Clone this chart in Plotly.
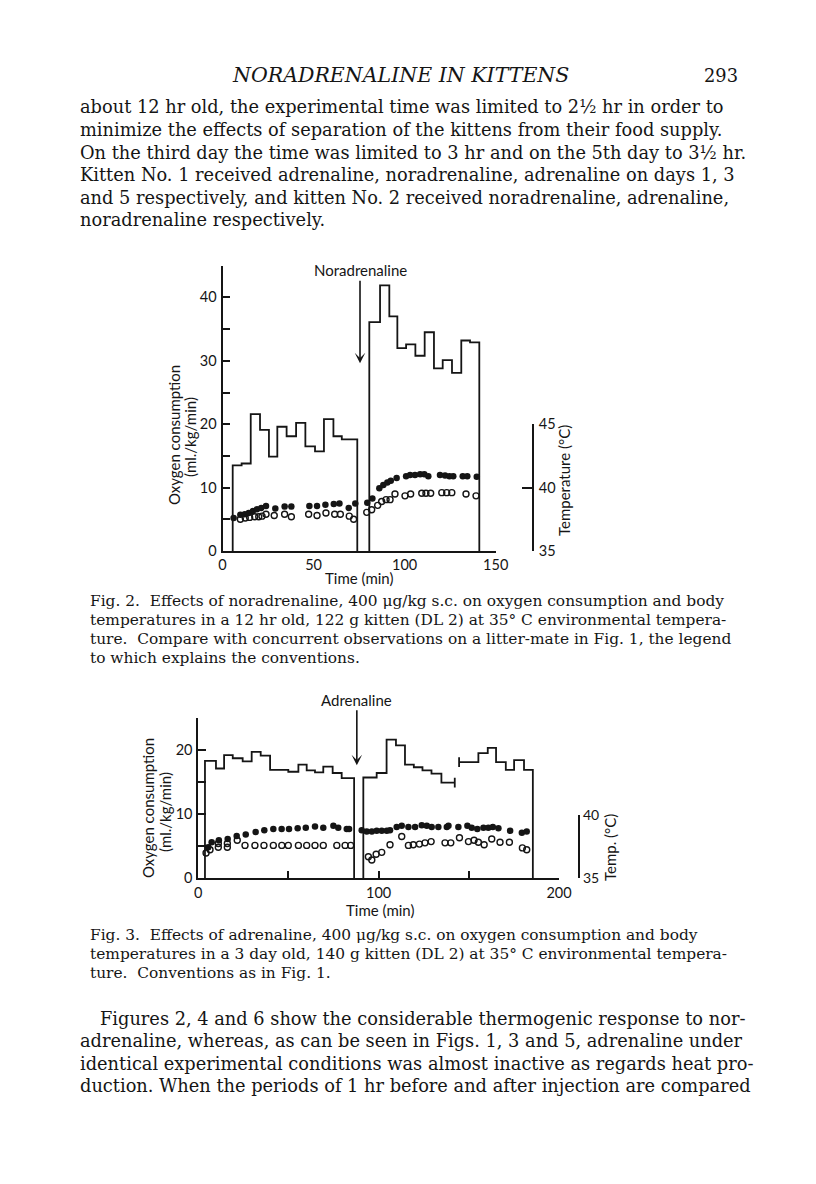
import plotly.graph_objects as go

W, H = 816, 1184
SERIF = "DejaVu Serif"
SANS = "Lato"
INK = "#151515"

# ---- page text -------------------------------------------------------------
header_title = "NORADRENALINE IN KITTENS"
header_page = "293"
para_top = [
    "about 12 hr old, the experimental time was limited to 2½ hr in order to",
    "minimize the effects of separation of the kittens from their food supply.",
    "On the third day the time was limited to 3 hr and on the 5th day to 3½ hr.",
    "Kitten No. 1 received adrenaline, noradrenaline, adrenaline on days 1, 3",
    "and 5 respectively, and kitten No. 2 received noradrenaline, adrenaline,",
    "noradrenaline respectively.",
]
cap_fig2 = [
    "Fig. 2.  Effects of noradrenaline, 400 μg/kg s.c. on oxygen consumption and body",
    "temperatures in a 12 hr old, 122 g kitten (DL 2) at 35° C environmental tempera-",
    "ture.  Compare with concurrent observations on a litter-mate in Fig. 1, the legend",
    "to which explains the conventions.",
]
cap_fig3 = [
    "Fig. 3.  Effects of adrenaline, 400 μg/kg s.c. on oxygen consumption and body",
    "temperatures in a 3 day old, 140 g kitten (DL 2) at 35° C environmental tempera-",
    "ture.  Conventions as in Fig. 1.",
]
para_bottom = [
    "Figures 2, 4 and 6 show the considerable thermogenic response to nor-",
    "adrenaline, whereas, as can be seen in Figs. 1, 3 and 5, adrenaline under",
    "identical experimental conditions was almost inactive as regards heat pro-",
    "duction. When the periods of 1 hr before and after injection are compared",
]

# ---- Fig. 2: noradrenaline, 12 hr old kitten --------------------------------
# oxygen consumption (ml./kg/min), step blocks between the given times (min)
f2_o2_pre_edges = [5.6, 10.5, 15.5, 20.6, 25.5, 30.1, 35.2, 40.4, 45.5, 50.8, 55.7, 60.9, 65.5, 74.0]
f2_o2_pre = [13.5, 13.8, 21.6, 19.1, 14.9, 19.6, 18.1, 20.2, 16.5, 15.7, 20.8, 18.1, 17.6]
f2_o2_post_edges = [80.6, 86.5, 91.6, 96.0, 100.8, 105.9, 111.0, 116.1, 120.9, 126.0, 131.1, 135.9, 141.0]
f2_o2_post = [36.1, 41.9, 37.0, 32.0, 32.6, 30.8, 34.5, 28.8, 30.1, 28.1, 33.2, 32.9]
# temperatures (deg C)
f2_filled_time = [6.1, 9.8, 12.2, 14.4, 16.7, 18.9, 21.3, 23.9, 29.0, 34.1, 37.8, 47.7, 51.9, 56.5,
                  61.1, 64.2, 69.3, 72.9,
                  79.5, 82.3, 86.1, 88.3, 90.5, 92.4, 95.6, 100.8, 103.0, 105.7, 108.5, 110.8,
                  113.0, 119.4, 122.2, 124.6, 126.7, 131.9, 134.4, 139.6]
f2_filled_temp = [37.6, 37.85, 37.9, 38.0, 38.15, 38.3, 38.4, 38.55, 38.35, 38.5, 38.5, 38.55, 38.55, 38.65,
                  38.7, 38.75, 38.4, 38.75,
                  38.8, 39.15, 39.95, 40.2, 40.4, 40.55, 40.75, 40.9, 41.0, 41.0, 41.05, 41.05,
                  40.9, 41.0, 40.95, 40.9, 40.9, 40.9, 40.9, 40.85]
f2_open_time = [9.8, 12.5, 14.9, 17.7, 19.9, 21.7, 23.9, 28.4, 34.1, 37.8, 47.3, 51.9, 56.8, 61.6,
                64.7, 69.6, 72.0,
                79.2, 81.9, 85.2, 87.4, 89.8, 92.0, 94.7, 100.2, 103.3, 109.4, 111.7, 114.3,
                120.4, 123.1, 125.9, 133.7, 139.2]
f2_open_temp = [37.5, 37.6, 37.65, 37.7, 37.7, 37.75, 37.9, 37.8, 37.9, 37.7, 37.9, 37.8, 38.0, 37.9,
                37.9, 37.75, 37.5,
                38.05, 38.25, 38.6, 38.9, 39.05, 39.05, 39.5, 39.35, 39.5, 39.55, 39.55, 39.55,
                39.6, 39.6, 39.6, 39.5, 39.35]
f2_inject = {"label": "Noradrenaline", "time": 75.5, "tip": 29.6, "text_at": 44.3}

# ---- Fig. 3: adrenaline, 3 day old kitten -----------------------------------
f3_o2_pre_edges = [3.7, 9.8, 14.3, 19.1, 24.6, 29.6, 34.6, 39.8, 49.9, 55.5, 60.1, 64.7, 69.3, 74.5, 79.5, 86.4]
f3_o2_pre = [18.3, 17.1, 19.2, 18.7, 18.2, 19.7, 19.1, 16.9, 16.6, 17.7, 16.8, 16.5, 17.4, 16.4, 15.6]
f3_o2_post_edges = [91.5, 98.9, 104.4, 109.6, 114.6, 119.5, 124.3, 129.3, 134.8, 142.2]
f3_o2_post = [15.7, 16.4, 21.6, 20.7, 17.7, 17.3, 16.8, 16.3, 14.9]
f3_o2_late_edges = [144.6, 155.3, 160.5, 165.1, 170.5, 175.1, 180.6, 185.5]
f3_o2_late = [18.1, 19.5, 20.3, 18.1, 16.9, 18.4, 16.9]
f3_filled_time = [5.5, 7.4, 11.4, 16.3, 21.3, 26.3, 31.8, 36.6, 41.6, 46.2, 50.3, 55.1, 59.6, 64.7,
                  69.3, 74.9, 77.6, 82.3, 83.6,
                  90.6, 93.4, 96.2, 98.9, 101.7, 104.5, 106.3, 110.0, 112.8, 116.5, 120.2, 123.9,
                  126.7, 129.4, 133.1, 137.8, 138.7, 144.2, 149.2, 151.6, 154.7, 158.1, 160.8,
                  163.3, 166.4, 172.9, 179.4, 182.1]
f3_filled_temp = [37.45, 37.85, 38.0, 38.1, 38.35, 38.45, 38.65, 38.8, 38.9, 38.9, 38.9, 38.95, 39.0, 39.1,
                  39.0, 39.15, 39.0, 38.9, 38.9,
                  38.8, 38.7, 38.7, 38.75, 38.75, 38.75, 38.8, 39.05, 39.15, 39.05, 39.05, 39.2,
                  39.15, 39.05, 39.05, 39.05, 39.15, 39.05, 39.15, 39.0, 38.9, 39.0, 39.0,
                  39.05, 38.95, 38.75, 38.6, 38.7]
f3_open_time = [4.3, 6.5, 11.1, 11.1, 16.1, 16.1, 21.6, 25.9, 31.4, 36.4, 41.6, 46.3, 49.9, 55.5,
                60.1, 64.7, 69.3, 76.8, 81.4, 84.5,
                94.3, 96.2, 98.6, 101.7, 106.3, 112.8, 116.5, 119.2, 122.6, 125.7, 129.1, 136.8,
                140.0, 144.8, 149.8, 152.9, 155.3, 158.5, 162.7, 167.3, 172.5, 179.7, 182.1]
f3_open_temp = [37.0, 37.25, 37.75, 37.45, 37.75, 37.45, 38.0, 37.6, 37.6, 37.6, 37.6, 37.6, 37.6, 37.6,
                37.6, 37.6, 37.6, 37.6, 37.6, 37.6,
                36.7, 36.45, 36.9, 37.05, 37.65, 38.3, 37.6, 37.65, 37.7, 37.8, 37.9, 37.8,
                37.8, 38.2, 37.9, 38.0, 37.85, 37.65, 38.1, 37.85, 37.85, 37.4, 37.25]
f3_inject = {"label": "Adrenaline", "time": 87.9, "tip": 17.6, "text_at": 27.8}


def px(v):
    return v / W


def py(v):
    return 1 - v / H


def step_xy(edges, vals, rise=True, drop=True):
    """Outline of a block histogram, for line_shape='hv'."""
    xs, ys = [], []
    if rise:
        xs.append(edges[0])
        ys.append(0)
    for e, v in zip(edges, vals):
        xs.append(e)
        ys.append(v)
    xs.append(edges[-1])
    ys.append(vals[-1])
    if drop:
        xs.append(edges[-1])
        ys.append(0)
    return xs, ys


fig = go.Figure()

step_line = dict(shape="hv", color=INK, width=1.8)
filled_marker = dict(symbol="circle", size=6.5, color=INK)
open_marker = dict(symbol="circle-open", size=6, color=INK, line=dict(width=1.4, color=INK))

# Fig. 2 traces
for edges, vals in [(f2_o2_pre_edges, f2_o2_pre), (f2_o2_post_edges, f2_o2_post)]:
    xs, ys = step_xy(edges, vals)
    fig.add_trace(go.Scatter(x=xs, y=ys, mode="lines", line=step_line, xaxis="x", yaxis="y"))
fig.add_trace(go.Scatter(x=f2_filled_time, y=f2_filled_temp, mode="markers",
                         marker=filled_marker, xaxis="x", yaxis="y3"))
fig.add_trace(go.Scatter(x=f2_open_time, y=f2_open_temp, mode="markers",
                         marker=open_marker, xaxis="x", yaxis="y3"))

# Fig. 3 traces
for edges, vals, rise, drop in [(f3_o2_pre_edges, f3_o2_pre, True, True),
                                (f3_o2_post_edges, f3_o2_post, True, False),
                                (f3_o2_late_edges, f3_o2_late, False, True)]:
    xs, ys = step_xy(edges, vals, rise, drop)
    fig.add_trace(go.Scatter(x=xs, y=ys, mode="lines", line=step_line, xaxis="x2", yaxis="y2"))
# small end bars where the record breaks
fig.add_trace(go.Scatter(
    x=[f3_o2_post_edges[-1], f3_o2_late_edges[0]], y=[f3_o2_post[-1], f3_o2_late[0]],
    mode="markers", marker=dict(symbol="line-ns", size=7, line=dict(width=1.8, color=INK)),
    xaxis="x2", yaxis="y2"))
fig.add_trace(go.Scatter(x=f3_filled_time, y=f3_filled_temp, mode="markers",
                         marker=filled_marker, xaxis="x2", yaxis="y4"))
fig.add_trace(go.Scatter(x=f3_open_time, y=f3_open_temp, mode="markers",
                         marker=open_marker, xaxis="x2", yaxis="y4"))

tickfont = dict(family=SANS, size=14.5, color=INK)
axis_common = dict(showgrid=False, zeroline=False, showline=True, linecolor=INK, linewidth=1.8,
                   tickcolor=INK, tickwidth=1.8, tickfont=tickfont, automargin=False,
                   fixedrange=True)

fig.update_layout(
    width=W, height=H,
    margin=dict(l=0, r=0, t=0, b=0),
    paper_bgcolor="white", plot_bgcolor="rgba(0,0,0,0)",
    showlegend=False,
    xaxis=dict(axis_common, domain=[px(222.5), px(495.7)], range=[0, 150], anchor="y",
               tickvals=[0, 50, 100, 150], ticks=""),
    xaxis5=dict(axis_common, overlaying="x", anchor="y", range=[0, 150], showline=False,
                tickvals=[150], ticks="inside", ticklen=7, showticklabels=False),
    yaxis=dict(axis_common, domain=[py(551), py(265.7)], range=[0, 45], anchor="x",
               tickvals=[0, 5, 10, 15, 20, 25, 30, 35, 40, 45],
               ticktext=["0", "", "10", "", "20", "", "30", "", "40", ""],
               ticks="inside", ticklen=8, ticklabelstandoff=1),
    yaxis3=dict(axis_common, domain=[py(551), py(424.2)], range=[35, 45], anchor="free",
                position=px(533), side="right", tickvals=[35, 40, 45],
                ticks="inside", ticklen=10, ticklabelstandoff=2),
    xaxis2=dict(axis_common, domain=[px(198.3), px(559)], range=[0, 200], anchor="y2",
                tickvals=[0, 50, 100, 150, 200], ticktext=["0", "", "100", "", "200"],
                ticks="inside", ticklen=7),
    yaxis2=dict(axis_common, domain=[py(878.3), py(717.8)], range=[0, 25], anchor="x2",
                tickvals=[0, 5, 10, 15, 20, 25], ticktext=["0", "", "10", "", "20", ""],
                ticks="inside", ticklen=8, ticklabelstandoff=1),
    yaxis4=dict(axis_common, domain=[py(878.3), py(815)], range=[35, 40], anchor="free",
                position=px(579.3), side="right", tickvals=[35, 40],
                ticks="inside", ticklen=9, tickfont=dict(family=SANS, size=14, color=INK)),
)

ann = []

# injection arrows
for inj, xa, ya in [(f2_inject, "x", "y"), (f3_inject, "x2", "y2")]:
    ann.append(dict(x=inj["time"], y=inj["tip"], xref=xa, yref=ya,
                    ax=inj["time"], ay=inj["text_at"], axref=xa, ayref=ya,
                    text=inj["label"], showarrow=True, arrowhead=3, arrowsize=1.1,
                    arrowwidth=1.6, arrowcolor=INK, standoff=0,
                    font=dict(family=SANS, size=15, color=INK)))

# axis titles
title_font = dict(family=SANS, size=15, color=INK)
for text, x, y, angle in [
    ("Oxygen consumption", 174, 435, -90), ("(ml./kg/min)", 190, 437, -90),
    ("Temperature (°C)", 564, 481, -90), ("Time (min)", 359, 578, 0),
    ("Oxygen consumption", 148, 808, -90), ("(ml./kg/min)", 165, 812, -90),
    ("Temp. (°C)", 610, 848, -90), ("Time (min)", 380, 910, 0),
]:
    ann.append(dict(x=px(x), y=py(y), xref="paper", yref="paper", text=text,
                    textangle=angle, showarrow=False, font=title_font,
                    xanchor="center", yanchor="middle"))

# page text
body_font = dict(family=SERIF, size=17.8, color=INK)
cap_font = dict(family=SERIF, size=15.4, color=INK)
ann.append(dict(x=px(400), y=py(75), xref="paper", yref="paper", text="<i>" + header_title + "</i>",
                showarrow=False, font=dict(family=SERIF, size=20.5, color=INK),
                xanchor="center", yanchor="middle"))
ann.append(dict(x=px(740), y=py(75), xref="paper", yref="paper", text=header_page,
                showarrow=False, font=body_font, xanchor="right", yanchor="middle"))


def add_lines(lines, x0, y0, dy, font, first_indent=0):
    for i, line in enumerate(lines):
        ann.append(dict(x=px(x0 + (first_indent if i == 0 else 0)), y=py(y0 + i * dy),
                        xref="paper", yref="paper", text=line, showarrow=False, font=font,
                        xanchor="left", yanchor="middle"))


add_lines(para_top, 78, 107, 22.6, body_font)
add_lines(cap_fig2, 88, 601, 19, cap_font)
add_lines(cap_fig3, 88, 935, 19, cap_font)
add_lines(para_bottom, 78, 1018, 22.6, body_font, first_indent=20)

fig.update_layout(annotations=ann)

fig.write_html("out.html", config={"displayModeBar": False},
               post_script="document.body.style.margin='0px';")
